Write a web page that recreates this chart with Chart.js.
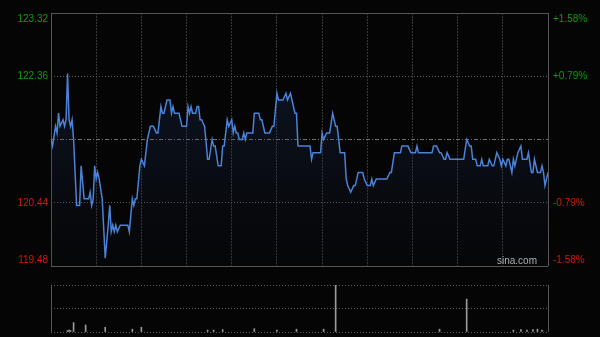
<!DOCTYPE html>
<html>
<head>
<meta charset="utf-8">
<title>分时图</title>
<script src="https://cdn.jsdelivr.net/npm/chart.js@4.4.1/dist/chart.umd.min.js"></script>
<style>
    html, body { margin: 0; padding: 0; background: #050505; }
    #wrap { position: relative; width: 600px; height: 337px; overflow: hidden; }
    #priceChart { position: absolute; left: 0; top: 0; }
    #volChart { position: absolute; left: 0; top: 280px; }
</style>
</head>
<body>
<div id="wrap">
    <canvas id="priceChart" width="600" height="280"></canvas>
    <canvas id="volChart" width="600" height="57"></canvas>
</div>
<script>
// Previous close and the axis labels shown on both sides
const prevClose = 121.40;
const priceTicks = [119.48, 120.44, 121.40, 122.36, 123.32];
const pctLabels = ['-1.58%', '-0.79%', '', '+0.79%', '+1.58%'];

// HK session: 9:30-12:00 + 13:00-16:00 = 330 minutes, gridline every 30 min
const sessionMinutes = 330;
const minuteTicks = [0, 30, 60, 90, 120, 150, 180, 210, 240, 270, 300, 330];

// Price line (minute index -> price)
const priceMinutes = [
    0, 1, 3, 4, 5, 6, 8, 9, 10, 11, 12, 13, 14, 15, 17, 19, 20, 22, 25, 26,
    27, 28, 29, 30, 31, 32, 34, 36, 38, 39, 40, 41, 42, 43, 44, 46, 51, 52, 54, 55,
    56, 57, 59, 60, 62, 64, 65, 66, 68, 70, 71, 73, 74, 75, 77, 79, 80, 81, 82, 85,
    87, 90, 91, 92, 93, 94, 96, 97, 98, 99, 100, 102, 104, 105, 107, 108, 109, 111, 113, 114,
    115, 117, 118, 120, 121, 122, 123, 124, 125, 127, 128, 129, 130, 134, 135, 138, 139, 140, 142, 145,
    147, 148, 150, 151, 154, 156, 157, 159, 160, 162, 163, 164, 172, 173, 174, 179, 180, 181, 183, 185,
    187, 189, 190, 192, 195, 196, 197, 199, 201, 202, 204, 207, 208, 210, 212, 213, 214, 216, 223, 225,
    226, 228, 232, 233, 237, 239, 242, 243, 244, 253, 254, 256, 258, 259, 261, 262, 263, 265, 274, 276,
    278, 279, 280, 282, 283, 285, 286, 287, 290, 291, 293, 294, 296, 298, 299, 300, 302, 303, 304, 305,
    306, 307, 308, 310, 312, 313, 316, 317, 319, 320, 321, 323, 325, 326, 327, 328, 330
];
const prices = [
    121.4, 121.3, 121.6, 121.5, 121.8, 121.6, 121.7, 121.6, 121.7, 122.4, 121.7, 121.6, 121.7, 121.4, 120.4, 120.4, 121.0, 120.5, 120.5, 120.6,
    120.4, 120.5, 121.0, 120.8, 120.9, 120.8, 120.5, 119.6, 120.1, 120.4, 120.0, 120.1, 120.0, 120.1, 120.0, 120.1, 120.1, 120.0, 120.5, 120.4,
    120.5, 120.5, 121.0, 121.1, 121.0, 121.4, 121.5, 121.6, 121.6, 121.5, 121.5, 121.9, 121.8, 121.8, 122.0, 122.0, 121.8, 121.9, 121.8, 121.8,
    121.6, 121.6, 121.9, 121.8, 121.9, 121.8, 121.8, 121.9, 121.9, 121.7, 121.7, 121.6, 121.1, 121.1, 121.4, 121.3, 121.3, 121.0, 121.0, 121.3,
    121.3, 121.7, 121.6, 121.7, 121.5, 121.6, 121.5, 121.5, 121.4, 121.4, 121.5, 121.4, 121.5, 121.5, 121.8, 121.8, 121.7, 121.7, 121.5, 121.5,
    121.6, 121.6, 122.1, 122.0, 122.0, 122.1, 122.0, 122.1, 122.0, 121.8, 121.8, 121.3, 121.3, 121.1, 121.2, 121.2, 121.5, 121.4, 121.5, 121.5,
    121.8, 121.6, 121.6, 121.2, 121.2, 120.8, 120.7, 120.6, 120.7, 120.7, 120.9, 120.9, 120.8, 120.7, 120.7, 120.8, 120.7, 120.8, 120.8, 120.9,
    120.9, 121.2, 121.2, 121.3, 121.3, 121.2, 121.2, 121.3, 121.2, 121.2, 121.3, 121.3, 121.2, 121.2, 121.1, 121.1, 121.2, 121.1, 121.1, 121.4,
    121.3, 121.3, 121.1, 121.1, 121.0, 121.0, 121.1, 121.0, 121.0, 121.1, 121.0, 121.0, 121.2, 121.1, 121.0, 121.1, 121.0, 121.1, 121.1, 121.0,
    120.9, 121.1, 121.0, 121.2, 121.3, 121.1, 121.1, 121.2, 120.9, 120.9, 121.1, 120.9, 120.9, 121.0, 120.9, 120.7, 120.9
];

// Volume bars (only the visible ones), relative units
const volMinutes = [11, 12, 13, 15, 23, 36, 54, 60, 104, 108, 114, 135, 150, 163, 181, 189, 258, 276, 307, 312, 316, 320, 323, 326];
const volumes = [3, 4, 3, 20, 15, 10, 6, 10, 4, 4, 5, 7, 4, 6, 6, 100, 6, 70, 4, 5, 4, 5, 6, 4];

const UP = '#0c9c0c';
const DOWN = '#d01a0a';
const FRAME = '#555555';

/**
 * Collapse an axis so the chart area is set only by layout padding.
 */
function noSize(scale) {
    if (scale.isHorizontal()) scale.height = 0; else scale.width = 0;
}

/**
 * Left price labels, right percent labels and the watermark.
 */
const sideLabels = {
    id: 'sideLabels',
    afterDraw(chart) {
        const { ctx, chartArea: a, scales: { y } } = chart;
        ctx.save();
        ctx.font = '10px Arial, "Liberation Sans", sans-serif';
        ctx.textBaseline = 'middle';
        priceTicks.forEach((v, i) => {
            if (v === prevClose) return;
            let py = y.getPixelForValue(v);
            if (i === 0) py -= 6;
            if (i === priceTicks.length - 1) py += 6;
            ctx.fillStyle = v > prevClose ? UP : DOWN;
            ctx.textAlign = 'right';
            ctx.fillText(v.toFixed(2), a.left - 3, py);
            ctx.textAlign = 'left';
            ctx.fillText(pctLabels[i], a.right + 5, py);
        });
        ctx.fillStyle = '#b0b0b0';
        ctx.textAlign = 'right';
        ctx.fillText('sina.com', a.right - 11, a.bottom - 5);
        ctx.restore();
    }
};

function priceFill(context) {
    const { ctx, chartArea } = context.chart;
    if (!chartArea) return 'transparent';
    const g = ctx.createLinearGradient(0, chartArea.top, 0, chartArea.bottom);
    g.addColorStop(0, 'rgba(45, 80, 150, 0.32)');
    g.addColorStop(1, 'rgba(20, 30, 55, 0.08)');
    return g;
}

new Chart(document.getElementById('priceChart'), {
    type: 'line',
    data: {
        datasets: [{
            data: priceMinutes.map((m, i) => ({ x: m, y: prices[i] })),
            borderColor: '#4a82d8',
            borderWidth: 1.5,
            pointRadius: 0,
            tension: 0,
            fill: 'start',
            backgroundColor: priceFill
        }]
    },
    options: {
        responsive: false,
        animation: false,
        devicePixelRatio: 1,
        layout: { padding: { left: 51, right: 52, top: 13, bottom: 14 } },
        plugins: { legend: { display: false }, tooltip: { enabled: false } },
        scales: {
            x: {
                type: 'linear',
                min: 0,
                max: sessionMinutes,
                afterBuildTicks: s => { s.ticks = minuteTicks.map(v => ({ value: v })); },
                afterFit: noSize,
                ticks: { display: false },
                grid: {
                    drawTicks: false,
                    color: c => (c.tick.value === 0 || c.tick.value === sessionMinutes) ? FRAME : '#363636'
                },
                border: {
                    display: false,
                    dash: c => (c.tick && (c.tick.value === 0 || c.tick.value === sessionMinutes)) ? [] : [2, 1]
                }
            },
            y: {
                min: priceTicks[0],
                max: priceTicks[priceTicks.length - 1],
                afterBuildTicks: s => { s.ticks = priceTicks.map(v => ({ value: v })); },
                afterFit: noSize,
                ticks: { display: false },
                grid: {
                    drawTicks: false,
                    color: c => {
                        const v = c.tick.value;
                        if (v === priceTicks[0] || v === priceTicks[4]) return FRAME;
                        if (v === prevClose) return '#707070';
                        return '#5a5a5a';
                    }
                },
                border: {
                    display: false,
                    dash: c => {
                        const v = c.tick && c.tick.value;
                        if (v === priceTicks[0] || v === priceTicks[4]) return [];
                        if (v === prevClose) return [4, 2, 1, 2];
                        return [1, 2];
                    }
                }
            }
        }
    },
    plugins: [sideLabels]
});

const volMax = Math.max(...volumes);

new Chart(document.getElementById('volChart'), {
    type: 'bar',
    data: {
        datasets: [{
            data: volMinutes.map((m, i) => ({ x: m, y: volumes[i] })),
            backgroundColor: '#9a9a9a',
            barThickness: 1
        }]
    },
    options: {
        responsive: false,
        animation: false,
        devicePixelRatio: 1,
        layout: { padding: { left: 51, right: 52, top: 5, bottom: 5 } },
        plugins: { legend: { display: false }, tooltip: { enabled: false } },
        scales: {
            x: {
                type: 'linear',
                offset: false,
                min: 0,
                max: sessionMinutes,
                afterBuildTicks: s => { s.ticks = [{ value: 0 }, { value: sessionMinutes }]; },
                afterFit: noSize,
                ticks: { display: false },
                grid: { drawTicks: false, offset: false, color: FRAME },
                border: { display: false }
            },
            y: {
                min: 0,
                max: volMax,
                afterBuildTicks: s => { s.ticks = [0, volMax / 2, volMax].map(v => ({ value: v })); },
                afterFit: noSize,
                ticks: { display: false },
                grid: { drawTicks: false, color: '#5a5a5a' },
                border: { display: false, dash: [1, 2] }
            }
        }
    }
});
</script>
</body>
</html>
